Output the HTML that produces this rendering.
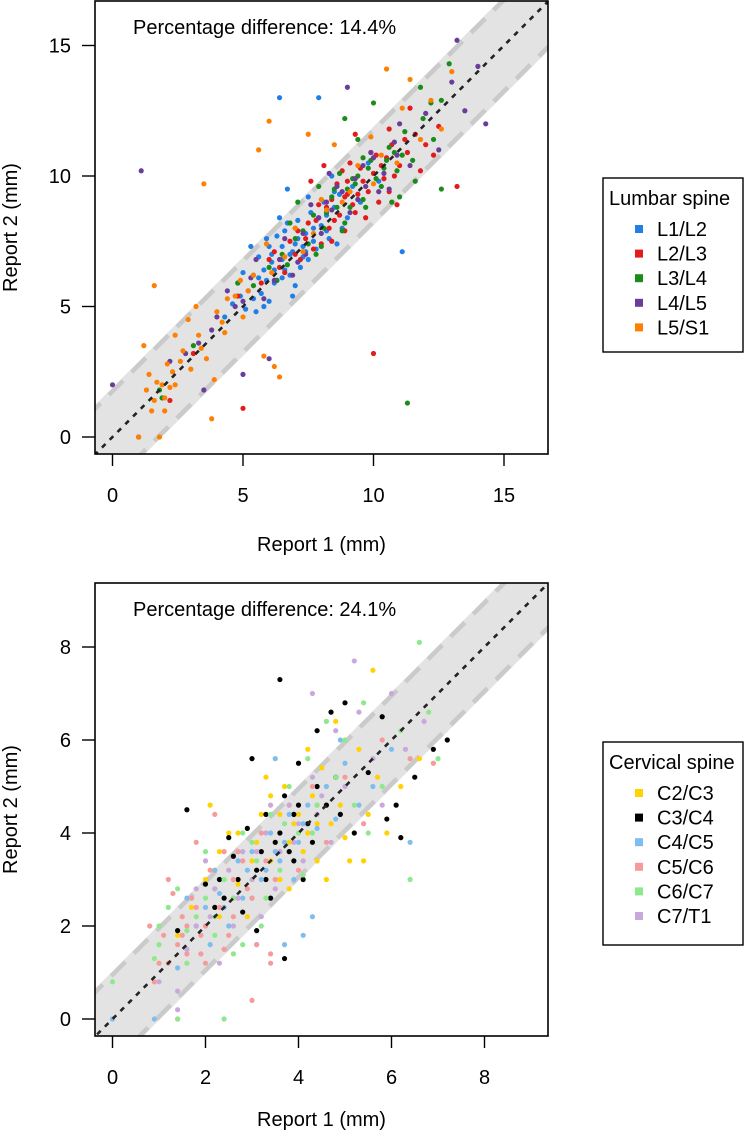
<!DOCTYPE html>
<html><head><meta charset="utf-8">
<style>
html,body{margin:0;padding:0;background:#fff;}
svg{display:block;font-family:"Liberation Sans",Arial,sans-serif;}
</style></head>
<body>
<svg id="chart" width="744" height="1136" viewBox="0 0 744 1136" xmlns="http://www.w3.org/2000/svg">
<g id="top"></g>
<g id="bot"></g>
</svg>
<script>
// ---- Lumbar data ----
const lumbarCategories = ["L1/L2","L2/L3","L3/L4","L4/L5","L5/S1"];
const lumbarColors = ["#1f7fe6","#e41a1c","#1a8c1a","#6a3d9a","#ff7f00"];
const lumbarTicks = [0,5,10,15];
const lumbarBand = 1.75;
const lumbarTitle = "Percentage difference: 14.4%";
const L1L2 = [[5.2,5.6],[5.5,4.8],[5.8,6.4],[6.0,5.2],[6.1,7.0],[6.3,6.0],[6.5,6.8],[6.6,7.9],[6.8,6.2],[7.0,7.4],[7.1,8.3],[7.3,6.9],[7.4,7.8],[7.6,8.6],[7.8,7.2],[8.0,8.1],[8.1,9.0],[8.3,7.6],[8.5,8.8],[8.7,9.3],[9.0,8.4],[9.2,9.6],[5.0,6.3],[5.6,6.9],[6.2,5.9],[6.9,7.1],[7.2,6.5],[7.7,8.0],[8.2,8.5],[4.6,5.1],[4.9,5.4],[5.9,7.6],[6.4,8.4],[7.5,9.2],[8.8,8.0],[9.5,9.0],[10.2,9.8],[7.9,13.0],[6.7,9.5],[5.4,6.2],[8.4,10.0],[11.1,7.1],[7.0,5.8],[6.1,6.7],[5.7,5.5],[6.6,6.4],[7.3,7.3],[8.6,7.4],[9.8,10.5],[4.3,4.6],[6.4,13.0],[5.3,7.3],[6.9,5.4],
  [5.1,4.9],[5.4,5.3],[5.9,6.0],[6.2,6.4],[6.5,6.1],[6.8,7.0],[7.1,7.6],[7.4,7.1],[7.7,7.5],[6.0,7.3],[5.6,6.1],[6.3,7.7],[7.9,8.4],[8.2,7.9],[4.8,5.9],[6.7,8.2],[5.8,5.0],[7.5,6.8],[6.5,7.3],[7.0,8.0],[8.5,9.4]];
const L2L3 = [[7.5,8.2],[8.0,7.4],[8.4,9.1],[8.7,8.5],[9.0,9.8],[9.2,8.9],[9.5,10.3],[9.8,9.4],[10.1,10.8],[10.4,9.9],[10.7,11.2],[11.0,10.4],[11.3,10.9],[11.6,11.6],[12.0,11.2],[6.8,7.5],[7.2,6.8],[7.9,8.9],[8.3,8.0],[8.9,7.9],[9.4,9.3],[10.0,10.1],[10.5,10.7],[11.8,10.2],[12.5,11.9],[6.2,7.1],[5.7,5.9],[3.1,3.2],[2.2,1.4],[5.0,1.1],[10.0,3.2],[13.2,9.6],[9.3,11.6],[8.1,10.4],[7.6,9.8],[6.4,6.5],[10.9,8.9],[11.4,12.6],[9.7,8.4],[8.6,9.7],[7.0,7.0],[4.8,5.4],[12.3,10.8],[10.2,9.0],[9.1,10.5],[8.8,10.2],[10.6,11.8],
  [6.6,6.3],[7.4,7.6],[7.8,8.3],[8.5,8.3],[8.9,9.2],[9.6,9.8],[10.3,10.4],[10.8,10.0],[9.9,10.9],[8.2,8.8],[7.1,7.9],[6.0,6.8],[9.3,8.6],[10.6,9.4],[11.2,11.4],[8.4,7.5],[7.7,7.2],[9.0,9.3]];
const L3L4 = [[8.2,8.6],[8.5,9.5],[8.9,8.2],[9.2,9.9],[9.6,9.1],[9.9,10.6],[10.3,9.6],[10.6,11.1],[10.9,10.2],[11.2,11.7],[11.5,10.6],[11.9,12.2],[12.3,11.4],[12.6,12.9],[7.3,7.9],[7.7,8.5],[8.0,7.3],[6.5,7.0],[6.0,6.5],[5.4,5.8],[10.0,12.8],[11.0,9.2],[12.6,9.5],[12.9,14.3],[11.3,1.3],[3.1,3.5],[1.8,1.8],[1.9,1.5],[9.4,11.4],[10.7,9.0],[8.7,10.1],[7.1,9.0],[11.8,13.4],[12.2,12.8],[9.7,8.8],[10.4,10.3],[6.8,8.2],[4.8,5.9],[8.9,12.2],[11.6,9.8],[7.9,9.6],[9.1,8.8],
  [7.5,7.4],[8.1,8.0],[8.6,8.8],[9.0,9.5],[9.4,10.0],[10.1,9.9],[10.5,10.6],[7.0,7.6],[8.4,9.2],[9.8,10.3],[6.3,6.0],[7.8,7.0],[9.3,9.7],[10.8,10.9],[8.8,7.9],[6.7,6.6],[11.1,10.8],[9.6,10.7]];
const L4L5 = [[4.0,4.6],[4.4,5.6],[5.0,5.2],[5.5,6.8],[6.2,6.0],[6.6,7.6],[7.1,6.7],[7.6,8.9],[8.0,7.8],[8.6,9.6],[9.1,8.6],[9.6,10.4],[10.2,9.4],[10.8,11.3],[11.4,10.4],[12.0,12.4],[12.5,11.0],[13.0,13.6],[13.5,12.5],[14.0,14.2],[14.3,12.0],[13.2,15.2],[9.0,13.4],[1.1,10.2],[0.0,2.0],[1.0,0.0],[2.2,2.9],[2.8,3.2],[3.5,1.8],[3.8,4.1],[5.0,2.4],[6.0,3.0],[3.3,3.6],[7.4,7.0],[8.3,10.1],[10.6,9.5],[11.0,12.0],[9.4,9.1],[6.9,6.2],[5.8,5.3],[9.9,10.9],[10.9,10.8],
  [7.9,8.4],[8.4,8.7],[8.8,9.4],[9.3,9.9],[9.7,9.6],[10.4,10.1],[7.3,7.8],[6.4,6.8],[8.2,9.0],[10.0,10.7],[5.3,6.1],[4.7,5.0]];
const L5S1 = [[1.0,0.0],[1.3,1.8],[1.5,1.0],[1.7,2.1],[2.0,1.5],[2.1,2.8],[2.4,2.0],[2.7,3.3],[3.0,2.6],[3.3,3.9],[3.6,3.0],[3.8,0.7],[4.0,4.8],[4.3,4.0],[4.7,5.4],[5.0,4.6],[5.4,6.2],[5.8,3.1],[6.2,2.7],[6.4,2.3],[1.8,0.0],[2.4,3.9],[3.2,5.0],[3.5,9.7],[5.6,11.0],[6.0,12.1],[7.5,11.6],[10.5,14.1],[11.4,13.7],[12.2,12.9],[11.8,11.4],[10.9,10.5],[10.0,9.7],[9.4,10.4],[8.8,9.0],[8.2,8.7],[7.7,7.8],[7.0,8.0],[6.6,6.9],[5.9,7.4],[4.9,6.0],[4.4,5.3],[12.6,11.8],[13.0,14.0],[2.9,4.5],[1.2,3.5],[3.9,2.2],[9.9,11.5],[11.1,12.6],[8.5,11.2],[1.6,5.8],[2.0,1.0],
  [1.4,2.4],[1.9,2.0],[2.3,2.5],[2.6,2.9],[3.4,3.4],[4.2,4.4],[5.2,5.6],[6.1,6.3],[7.3,7.1],[8.0,9.1],[9.1,9.4],[10.3,10.8],[2.2,1.9],[1.6,1.4]];
const lumbarSeries = [L1L2,L2L3,L3L4,L4L5,L5S1];

// ---- Cervical data ----
const cervicalCategories = ["C2/C3","C3/C4","C4/C5","C5/C6","C6/C7","C7/T1"];
const cervicalColors = ["#ffd200","#000000","#7dbdf0","#f79a9a","#8ee88e","#c9a8dc"];
const cervicalTicks = [0,2,4,6,8];
const cervicalBand = 0.95;
const cervicalTitle = "Percentage difference: 24.1%";
const C2C3 = [[2.3,3.6],[2.7,4.0],[3.0,3.4],[3.2,4.4],[3.5,3.8],[3.7,5.0],[3.9,4.2],[4.1,3.6],[4.3,4.8],[4.5,5.4],[4.7,4.2],[4.9,4.6],[5.1,3.4],[5.3,5.8],[5.5,4.4],[5.7,5.2],[5.9,4.0],[6.2,5.0],[6.6,5.6],[5.6,7.5],[4.8,6.4],[4.2,5.8],[3.3,5.2],[2.5,4.0],[2.0,3.0],[1.7,2.4],[1.4,1.8],[2.9,2.2],[3.6,3.0],[4.4,3.4],[5.0,3.9],[5.4,3.4],[2.1,4.6],[3.8,2.8],[4.6,3.0],[2.3,2.2],[2.7,2.9],[3.4,4.8],[4.0,4.4],[3.1,3.8],
  [2.6,2.6],[3.0,3.0],[3.4,3.4],[3.8,3.8],[4.2,4.0],[4.6,4.6],[2.2,3.2],[3.6,4.4],[4.4,4.2]];
const C3C4 = [[1.4,1.9],[1.6,4.5],[2.0,2.9],[2.3,3.0],[2.6,3.5],[2.9,4.1],[3.1,3.2],[3.3,4.4],[3.5,3.8],[3.6,7.3],[3.7,4.8],[3.9,3.4],[4.0,5.5],[4.2,4.2],[4.4,6.2],[4.6,4.6],[4.8,5.2],[5.0,6.8],[5.2,4.0],[5.5,5.3],[5.8,6.5],[6.1,4.6],[6.2,3.9],[6.5,5.2],[6.9,5.8],[7.2,6.0],[3.7,1.3],[3.1,1.9],[2.8,2.3],[4.1,3.0],[4.7,6.6],[3.4,2.6],[5.9,4.3],[2.4,2.6],[4.9,4.4],[3.0,5.6],[3.8,3.6],[4.3,3.8],
  [2.2,2.4],[2.7,3.0],[3.2,3.6],[3.6,4.0],[4.0,4.6],[4.4,5.0],[2.5,3.9],[3.3,3.0],[3.9,4.4]];
const C4C5 = [[0.0,0.0],[0.9,0.0],[1.4,1.1],[1.6,1.5],[2.0,2.4],[2.3,2.7],[2.6,3.0],[2.8,2.6],[3.0,3.6],[3.2,3.0],[3.4,4.0],[3.6,3.4],[3.8,4.4],[4.0,3.8],[4.2,4.6],[4.4,4.1],[4.6,5.0],[4.8,4.3],[5.0,5.5],[5.3,4.6],[5.6,5.0],[6.4,3.8],[6.0,5.8],[3.7,1.6],[3.1,1.6],[2.5,2.0],[3.5,5.6],[4.3,2.2],[2.2,3.2],[4.9,6.0],[4.1,1.8],[3.3,3.2],[2.7,3.4],[3.9,3.0],
  [1.8,2.0],[2.4,2.4],[2.9,3.2],[3.5,3.6],[4.1,4.2],[1.6,2.6],[2.1,1.6],[3.0,2.6],[3.7,3.8]];
const C5C6 = [[0.9,0.8],[1.0,1.2],[1.2,1.2],[1.4,0.0],[1.4,1.6],[1.5,2.2],[1.6,1.4],[1.7,2.6],[1.9,1.8],[2.0,1.2],[2.1,3.2],[2.3,2.4],[2.5,1.8],[2.7,3.6],[2.9,2.8],[3.0,0.4],[3.1,1.6],[3.4,1.2],[3.4,1.4],[3.2,4.0],[3.5,3.0],[3.8,4.6],[4.0,3.2],[4.3,5.0],[4.6,3.8],[5.0,5.2],[5.4,4.2],[5.8,6.0],[6.4,5.6],[6.9,5.5],[1.2,3.0],[0.8,2.0],[1.8,3.8],[2.2,4.4],[2.6,2.2],[1.3,2.7],[2.4,1.5],[3.3,3.4],[4.4,4.6],[1.1,1.8],[1.6,2.0],[2.0,2.0],
  [1.8,2.4],[2.2,2.8],[2.6,3.0],[2.8,3.4],[3.0,2.6],[1.5,1.8],[2.4,3.6],[3.6,3.6],[1.9,1.4]];
const C6C7 = [[0.0,0.8],[1.0,1.6],[1.0,2.0],[1.2,2.4],[1.4,0.0],[1.6,1.2],[2.0,2.6],[2.2,1.8],[2.4,0.0],[2.4,3.0],[2.6,1.4],[2.8,1.6],[3.0,3.8],[3.2,2.0],[3.4,4.4],[3.6,3.2],[3.8,5.0],[4.0,4.0],[4.2,5.6],[4.4,4.6],[4.6,6.4],[4.8,5.2],[5.0,6.0],[5.2,4.6],[5.4,6.8],[5.8,5.0],[6.2,6.2],[6.4,3.0],[6.6,8.1],[6.8,6.6],[7.0,5.6],[0.9,1.3],[2.0,3.6],[1.6,1.9],[3.3,2.6],[4.1,3.1],[5.5,4.0],[2.8,4.0],
  [1.8,2.2],[2.6,2.6],[3.1,3.4],[3.7,4.2],[4.3,4.0],[1.4,2.8],[2.2,2.2]];
const C7T1 = [[1.0,0.8],[1.4,0.2],[1.4,0.6],[1.8,2.0],[2.2,2.8],[2.5,3.2],[2.8,3.6],[3.0,3.0],[3.3,4.0],[3.6,3.6],[3.8,4.6],[4.0,4.2],[4.3,5.2],[4.5,4.8],[4.8,6.2],[5.0,5.0],[5.3,6.6],[5.6,5.6],[6.0,7.0],[6.3,5.8],[6.7,6.4],[5.2,7.7],[4.3,7.0],[2.3,1.2],[3.2,2.2],[2.6,2.0],[4.1,3.4],[3.5,2.8],[1.6,1.5],[5.8,4.6],[2.0,3.4],[4.7,3.8],
  [2.1,2.2],[2.7,2.6],[3.1,3.6],[3.9,3.8],[4.4,4.4],[1.8,2.8],[3.4,4.6]];
const cervicalSeries = [C2C3,C3C4,C4C5,C5C6,C6C7,C7T1];

const NS = "http://www.w3.org/2000/svg";
function mk(parent, tag, attrs){
  const e = document.createElementNS(NS, tag);
  for (const k in attrs) e.setAttribute(k, attrs[k]);
  parent.appendChild(e);
  return e;
}
const FS = 20;

function panel(g, cfg){
  const {L,R,T,B,x0px,y0px,ppu,lo,hi} = cfg;
  const sx = v => x0px + v*ppu.x;
  const sy = v => y0px - v*ppu.y;
  const clipId = "clip"+cfg.id;
  const defs = mk(g,"defs",{});
  const cp = mk(defs,"clipPath",{id:clipId});
  mk(cp,"rect",{x:L,y:T,width:R-L,height:B-T});
  const plot = mk(g,"g",{"clip-path":"url(#"+clipId+")"});
  
  
  const f = cfg.band*1.08;
  const band = mk(plot,"polygon",{points:
    [sx(lo)+","+sy(lo+f), sx(hi)+","+sy(hi+f), sx(hi)+","+sy(hi-f), sx(lo)+","+sy(lo-f)].join(" "),
    fill:"#e3e3e3"});
  
  
  [cfg.band,-cfg.band].forEach(o=>{
    const dl = mk(plot,"line",{x1:sx(lo),y1:sy(lo+o),x2:sx(hi),y2:sy(hi+o),stroke:"#cacaca","stroke-width":4.5,"stroke-dasharray":"20 12"});
    
    
  });
  cfg.series.forEach((pts,si)=>{
    const sg = mk(plot,"g",{fill:cfg.colors[si]});
    
    
    pts.forEach(p=>{
      const c = mk(sg,"circle",{cx:sx(p[0]),cy:sy(p[1]),r:2.6});
      
      
    });
  });
  const id = mk(plot,"line",{x1:sx(lo),y1:sy(lo),x2:sx(hi),y2:sy(hi),stroke:"#222","stroke-width":2.6,"stroke-dasharray":"5 6"});
  
  
  const box = mk(g,"rect",{x:L,y:T,width:R-L,height:B-T,fill:"none",stroke:"#000","stroke-width":1.6});
  
  
  cfg.ticks.forEach(t=>{
    const xt = mk(g,"line",{x1:sx(t),y1:B,x2:sx(t),y2:B+12,stroke:"#000","stroke-width":1.4});
    
    
    const xl = mk(g,"text",{x:sx(t),y:B+48,"text-anchor":"middle","font-size":FS});
    xl.textContent = t;
    
    
    const yt = mk(g,"line",{x1:L-13,y1:sy(t),x2:L,y2:sy(t),stroke:"#000","stroke-width":1.4});
    
    
    const yl = mk(g,"text",{x:L-24,y:sy(t)+7,"text-anchor":"end","font-size":FS});
    yl.textContent = t;
    
    
  });
  const xa = mk(g,"text",{x:(L+R)/2,y:cfg.xlabY,"text-anchor":"middle","font-size":FS});
  xa.textContent = "Report 1 (mm)";
  
  
  const ya = mk(g,"text",{x:0,y:0,"text-anchor":"middle","font-size":FS,transform:"translate(17,"+((T+B)/2)+") rotate(-90)"});
  ya.textContent = "Report 2 (mm)";
  
  
  const pt = mk(g,"text",{x:133,y:T+33,"font-size":FS});
  pt.textContent = cfg.title;
  
  
  const lg = mk(g,"g",{});
  
  
  const lb = mk(lg,"rect",{x:603,y:cfg.legTop,width:140,height:cfg.legH,fill:"#fff",stroke:"#000","stroke-width":1.4});
  
  
  const lt = mk(lg,"text",{x:609,y:cfg.legTop+27,"font-size":FS});
  lt.textContent = cfg.legTitle;
  
  
  cfg.cats.forEach((c,i)=>{
    const yy = cfg.legTop+51+i*24.6;
    const sw = mk(lg,"rect",{x:635,y:yy-4,width:8,height:8,fill:cfg.colors[i]});
    
    
    const tx = mk(lg,"text",{x:657,y:yy+7,"font-size":FS});
    tx.textContent = c;
    
    
  });
}

panel(document.getElementById("top"),{
  id:"t", L:95,R:548,T:1,B:454, x0px:112.5, y0px:437, ppu:{x:26.1,y:26.1}, lo:-1, hi:18,
  band:lumbarBand, ticks:lumbarTicks, series:lumbarSeries, colors:lumbarColors, cats:lumbarCategories,
  title:lumbarTitle, xlabY:551, legTop:178, legH:174, legTitle:"Lumbar spine"
});
panel(document.getElementById("bot"),{
  id:"b", L:95,R:548,T:583,B:1036, x0px:112.5, y0px:1019, ppu:{x:46.5,y:46.5}, lo:-1, hi:10,
  band:cervicalBand, ticks:cervicalTicks, series:cervicalSeries, colors:cervicalColors, cats:cervicalCategories,
  title:cervicalTitle, xlabY:1126, legTop:742, legH:203, legTitle:"Cervical spine"
});
</script>
</body></html>
